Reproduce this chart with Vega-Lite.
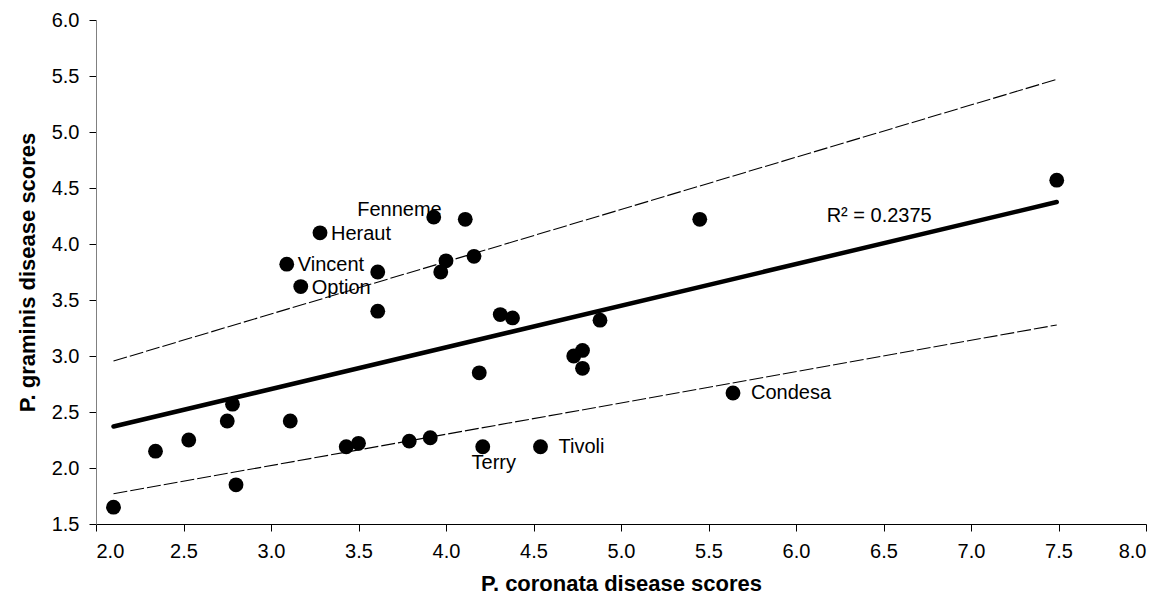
{
  "$schema": "https://vega.github.io/schema/vega-lite/v6.json",
  "width": 1050,
  "height": 504,
  "autosize": "none",
  "padding": {"left": 96, "top": 20, "right": 19, "bottom": 83},
  "background": "white",
  "config": {
    "view": {"stroke": null},
    "font": "Liberation Sans",
    "axis": {
      "grid": false,
      "labelFontSize": 20,
      "labelColor": "#000000",
      "titleFontSize": 22,
      "titleFontWeight": "bold",
      "titleColor": "#000000",
      "tickColor": "#000000",
      "tickSize": 7,
      "labelPadding": 10,
      "labelFont": "Liberation Sans",
      "titleFont": "Liberation Sans"
    }
  },
  "datasets": {
    "pts": [
      {"c": 2.10, "g": 1.65, "label": ""},
      {"c": 2.34, "g": 2.15, "label": ""},
      {"c": 2.53, "g": 2.25, "label": ""},
      {"c": 2.75, "g": 2.42, "label": ""},
      {"c": 2.78, "g": 2.57, "label": ""},
      {"c": 2.80, "g": 1.85, "label": ""},
      {"c": 3.11, "g": 2.42, "label": ""},
      {"c": 3.09, "g": 3.82, "label": "Vincent"},
      {"c": 3.17, "g": 3.62, "label": "Option"},
      {"c": 3.28, "g": 4.10, "label": "Heraut"},
      {"c": 3.43, "g": 2.19, "label": ""},
      {"c": 3.50, "g": 2.22, "label": ""},
      {"c": 3.61, "g": 3.75, "label": ""},
      {"c": 3.61, "g": 3.40, "label": ""},
      {"c": 3.79, "g": 2.24, "label": ""},
      {"c": 3.91, "g": 2.27, "label": ""},
      {"c": 3.93, "g": 4.24, "label": "Fenneme"},
      {"c": 3.97, "g": 3.75, "label": ""},
      {"c": 4.00, "g": 3.85, "label": ""},
      {"c": 4.11, "g": 4.22, "label": ""},
      {"c": 4.16, "g": 3.89, "label": ""},
      {"c": 4.19, "g": 2.85, "label": ""},
      {"c": 4.21, "g": 2.19, "label": "Terry"},
      {"c": 4.31, "g": 3.37, "label": ""},
      {"c": 4.38, "g": 3.34, "label": ""},
      {"c": 4.54, "g": 2.19, "label": "Tivoli"},
      {"c": 4.73, "g": 3.00, "label": ""},
      {"c": 4.78, "g": 3.05, "label": ""},
      {"c": 4.78, "g": 2.89, "label": ""},
      {"c": 4.88, "g": 3.32, "label": ""},
      {"c": 5.45, "g": 4.22, "label": ""},
      {"c": 5.64, "g": 2.67, "label": "Condesa"},
      {"c": 7.49, "g": 4.57, "label": ""}
    ],
    "lines": [
      {"series": "fit", "c": 2.10, "g": 2.37},
      {"series": "fit", "c": 7.49, "g": 4.375},
      {"series": "upper", "c": 2.10, "g": 2.955},
      {"series": "upper", "c": 7.49, "g": 5.47},
      {"series": "lower", "c": 2.10, "g": 1.77},
      {"series": "lower", "c": 7.49, "g": 3.277}
    ],
    "note": [
      {"c": 6.175, "g": 4.25, "text": "R² = 0.2375"}
    ]
  },
  "encoding": {
    "x": {
      "field": "c",
      "type": "quantitative",
      "scale": {"domain": [2, 8], "nice": false, "zero": false},
      "axis": {
        "title": "P. coronata disease scores",
        "values": [2, 2.5, 3, 3.5, 4, 4.5, 5, 5.5, 6, 6.5, 7, 7.5, 8],
        "format": ".1f",
        "domainColor": "#000000",
        "titlePadding": 12
      }
    },
    "y": {
      "field": "g",
      "type": "quantitative",
      "scale": {"domain": [1.5, 6], "nice": false, "zero": false},
      "axis": {
        "title": "P. graminis disease scores",
        "values": [1.5, 2, 2.5, 3, 3.5, 4, 4.5, 5, 5.5, 6],
        "format": ".1f",
        "domainColor": "#808080",
        "titlePadding": 12
      }
    }
  },
  "layer": [
    {
      "data": {"name": "pts"},
      "transform": [{"filter": "indexof(['Heraut','Vincent','Option'], datum.label) >= 0"}],
      "mark": {"type": "text", "align": "left", "baseline": "middle", "dx": 11, "dy": 1, "fontSize": 20, "color": "#000000"},
      "encoding": {"text": {"field": "label"}}
    },
    {
      "data": {"name": "pts"},
      "transform": [{"filter": "indexof(['Condesa','Tivoli'], datum.label) >= 0"}],
      "mark": {"type": "text", "align": "left", "baseline": "middle", "dx": 18, "dy": 0, "fontSize": 20, "color": "#000000"},
      "encoding": {"text": {"field": "label"}}
    },
    {
      "data": {"name": "pts"},
      "transform": [{"filter": "datum.label === 'Fenneme'"}],
      "mark": {"type": "text", "align": "right", "baseline": "middle", "dx": 8, "dy": -7, "fontSize": 20, "color": "#000000"},
      "encoding": {"text": {"field": "label"}}
    },
    {
      "data": {"name": "pts"},
      "transform": [{"filter": "datum.label === 'Terry'"}],
      "mark": {"type": "text", "align": "center", "baseline": "middle", "dx": 11, "dy": 16, "fontSize": 20, "color": "#000000"},
      "encoding": {"text": {"field": "label"}}
    },
    {
      "data": {"name": "note"},
      "mark": {"type": "text", "align": "left", "baseline": "middle", "fontSize": 20, "color": "#000000"},
      "encoding": {"text": {"field": "text"}}
    },
    {
      "data": {"name": "lines"},
      "transform": [{"filter": "datum.series !== 'fit'"}],
      "mark": {"type": "line", "color": "#000000", "strokeWidth": 1.1, "strokeDash": [14, 3]},
      "encoding": {"detail": {"field": "series"}}
    },
    {
      "data": {"name": "lines"},
      "transform": [{"filter": "datum.series === 'fit'"}],
      "mark": {"type": "line", "color": "#000000", "strokeWidth": 4.5, "strokeCap": "round"},
      "encoding": {}
    },
    {
      "data": {"name": "pts"},
      "mark": {"type": "circle", "color": "#000000", "opacity": 1, "size": 220},
      "encoding": {}
    }
  ]
}
